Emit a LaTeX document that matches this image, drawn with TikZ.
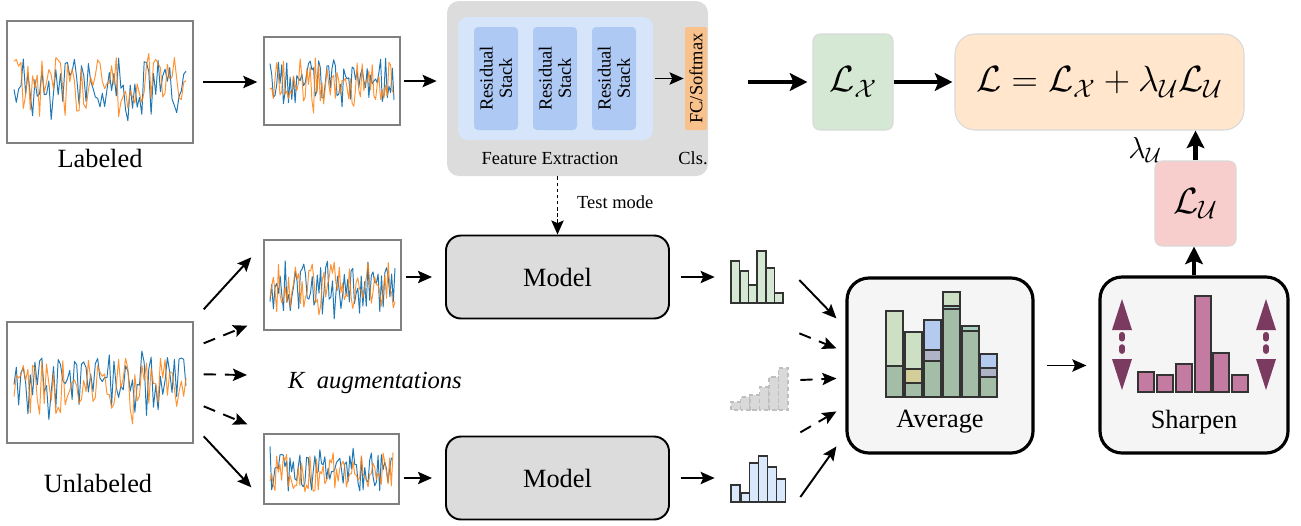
\documentclass[tikz,border=0pt]{standalone}
\usepackage{fontspec}
\setmainfont{Liberation Serif}
\usetikzlibrary{arrows.meta,calc}

\newlength\px \setlength\px{0.02cm}
\definecolor{tsblue}{HTML}{1F77B4}
\definecolor{tsorange}{HTML}{FF7F0E}
\definecolor{cnngray}{HTML}{DCDCDC}
\definecolor{featblue}{HTML}{D6E5F9}
\definecolor{stackblue}{HTML}{AEC9F3}
\definecolor{fcorange}{HTML}{F9C28D}
\definecolor{lxgreen}{HTML}{D5E8D4}
\definecolor{ltorange}{HTML}{FFE6CC}
\definecolor{lupink}{HTML}{F8CECC}
\definecolor{hgreen}{HTML}{D5E8D4}
\definecolor{hblue}{HTML}{DAE8FC}
\definecolor{lgreen}{HTML}{CDE0C3}
\definecolor{dgreen}{HTML}{A3BDA7}
\definecolor{ablue}{HTML}{B4CAEE}
\definecolor{agray}{HTML}{AEB4C6}
\definecolor{ayellow}{HTML}{D3CE98}
\definecolor{ateal}{HTML}{A9CFC1}
\definecolor{sharpc}{HTML}{7B3A60}
\definecolor{sbar}{HTML}{C47BA1}

\tikzset{
  plotbox/.style={draw=black!50, line width=0.8pt, fill=white, inner sep=0},
  tsline/.style={line width=0.55pt, line join=round},
  panel/.style={fill=cnngray, rounded corners=12\px, inner sep=0},
  stackbox/.style={fill=stackblue, rounded corners=4\px, rotate=90, minimum width=103\px,
    minimum height=44\px, align=center, inner sep=0, font=\fontsize{10.5}{11}\selectfont},
  modelbox/.style={draw, line width=1.1pt, fill=cnngray, rounded corners=15\px,
    minimum width=223\px, minimum height=83\px, font=\fontsize{15}{18}\selectfont},
  lossbox/.style={rounded corners=7\px, line width=0.6pt, inner sep=0,
    font=\fontsize{20}{24}\selectfont},
  bigbox/.style={draw, line width=1.8pt, fill=black!4, rounded corners=22\px, inner sep=0},
  arr/.style={line width=1.1pt, -{Stealth[length=8pt,width=7pt,inset=1.5pt]}},
  fatarr/.style={line width=2.4pt, -{Stealth[length=10pt,width=10pt,inset=2pt]}},
  dasharr/.style={arr, dash pattern=on 7pt off 5pt},
  hbar/.style={draw=black!80, line width=0.9pt},
  lbl/.style={font=\fontsize{15}{18}\selectfont},
  smalltxt/.style={font=\fontsize{10.5}{12}\selectfont},
}

% two noisy series: x0, x1, centre, amplitude, seed
\newcommand\tswave[5]{%
  \pgfmathsetseed{#5}
  \draw[tsline, tsblue] plot[samples=75, domain=#1:#2] (\x, {#3+#4*(0.6*rand+0.4*rand*rand*rand)});
  \draw[tsline, tsorange, opacity=.85] plot[samples=75, domain=#1:#2] (\x, {#3+#4*(0.6*rand+0.4*rand*rand*rand)});
}

\begin{document}
\begin{tikzpicture}[x=0.02cm, y=-0.02cm]
\useasboundingbox (0,0) rectangle (1301,525);

% labeled branch
\node[plotbox, minimum width=186\px, minimum height=122\px] (lab) at (100,82) {};
\tswave{14}{186}{86}{50}{11}
\node[lbl] (labtxt) at (100,158) {Labeled};
\node[plotbox, minimum width=136\px, minimum height=88\px] (labaug) at (332,81) {};
\tswave{270}{394}{83}{38}{23}

\node[panel, minimum width=261\px, minimum height=175\px] (cnn) at (577.5,88.5) {};
\node[fill=featblue, rounded corners=10\px, minimum width=195\px, minimum height=123\px] (feat) at (555.5,78.5) {};
\node[stackbox] (stk1) at (496,78.5) {Residual\\Stack};
\node[stackbox] (stk2) at (555,78.5) {Residual\\Stack};
\node[stackbox] (stk3) at (614,78.5) {Residual\\Stack};
\node[stackbox, fill=fcorange, minimum height=22\px, rounded corners=2\px] (fc) at (696,78.5) {FC/Softmax};
\node[smalltxt] (feattxt) at (550,158) {Feature Extraction};
\node[smalltxt] (clstxt) at (693,158) {Cls.};

\node[lossbox, fill=lxgreen, draw=black!15, minimum width=80\px, minimum height=96\px] (lossx) at (853,82) {$\mathcal{L}_{\mathcal{X}}$};
\node[lossbox, fill=ltorange, draw=black!15, rounded corners=20\px, minimum width=289\px, minimum height=96\px] (losst) at (1099.5,82)
  {$\mathcal{L} = \mathcal{L}_{\mathcal{X}} + \lambda_{\mathcal{U}}\mathcal{L}_{\mathcal{U}}$};
\node[lossbox, fill=lupink, draw=black!15, minimum width=81\px, minimum height=85\px] (lossu) at (1195.5,203.5) {$\mathcal{L}_{\mathcal{U}}$};
\node[font=\fontsize{18}{21}\selectfont] (lam) at (1145,150) {$\lambda_{\mathcal{U}}$};

\draw[arr, shorten <=9\px, shorten >=6\px] (lab.east) -- (labaug.west |- lab.east);
\draw[arr, shorten <=3\px, shorten >=10\px] (labaug.east) -- (cnn.west |- labaug.east);
\draw[arr, shorten <=2\px, shorten >=1\px] (feat.east) -- (fc.north);
\draw[fatarr, shorten <=40\px, shorten >=5\px] (lossx.west -| cnn.east) -- (lossx.west);
\draw[fatarr, shorten >=2\px] (lossx.east) -- (losst.west);
\draw[fatarr] (lossu.north) -- (lossu.north |- losst.south);

% unlabeled branch
\node[plotbox, minimum width=186\px, minimum height=121\px] (unlab) at (100,382.5) {};
\tswave{14}{186}{385}{52}{37}
\node[lbl] (unlabtxt) at (98,483) {Unlabeled};
\node[plotbox, minimum width=137\px, minimum height=90\px] (augtop) at (332.5,285) {};
\tswave{270}{395}{287}{40}{41}
\node[plotbox, minimum width=135\px, minimum height=70\px] (augbot) at (331.5,469) {};
\tswave{270}{393}{472}{32}{53}
\node[font=\fontsize{14}{17}\selectfont\itshape] (kaug) at (375,383) {K\ \ augmentations};

\draw[arr] ([shift={(10,-12)}]unlab.north east) -- ([shift={(-12,18)}]augtop.north west);
\draw[dasharr] ([shift={(10,22)}]unlab.north east) -- ([shift={(-16,-5)}]augtop.south west);
\draw[dasharr] ([shift={(10,53)}]unlab.north east) -- ([shift={(-35,-8)}]kaug.west);
\draw[dasharr] ([shift={(10,85)}]unlab.north east) -- ([shift={(-16,-9)}]augbot.north west);
\draw[arr] ([shift={(10,115)}]unlab.north east) -- ([shift={(-12,54)}]augbot.north west);

\node[modelbox] (mtop) at (557.5,277) {Model};
\node[modelbox] (mbot) at (557.5,478) {Model};
\draw[arr, dash pattern=on 2pt off 1.5pt, line width=1pt] (mtop.north |- cnn.south) -- (mtop.north);
\node[smalltxt, anchor=west] (testtxt) at (571,202) {Test mode};
\draw[arr, shorten <=4\px, shorten >=13\px] (augtop.east |- mtop.west) -- (mtop.west);
\draw[arr, shorten <=4\px, shorten >=13\px] (augbot.east |- mbot.west) -- (mbot.west);

% histograms
\node[inner sep=0, minimum width=58\px, minimum height=52\px] (htop) at (758,277) {};
\node[inner sep=0, minimum width=58\px, minimum height=42\px] (hmid) at (758,389) {};
\node[inner sep=0, minimum width=58\px, minimum height=47\px] (hbot) at (758,478) {};
\foreach \xa/\yt in {731/261,740/271,748.6/285,757.2/251,765.8/268,774.4/293}
  \draw[hbar, fill=hgreen] (\xa,303) rectangle (\xa+8.6,\yt);
\foreach \xa/\yt in {731/402,740.5/397,750/395,759.5/387,769/377,778.5/368}
  \draw[draw=black!25, fill=black!15, line width=0.9pt, dash pattern=on 2.5pt off 1.5pt] (\xa,410) rectangle (\xa+9.5,\yt);
\foreach \xa/\yt in {731/485,741/493,749.5/463,758.5/456,767.5/467,776.5/479}
  \draw[hbar, fill=hblue] (\xa,502) rectangle (\xa+9,\yt);
\draw[arr, shorten <=11\px, shorten >=14\px] (mtop.east) -- (htop.west |- mtop.east);
\draw[arr, shorten <=11\px, shorten >=14\px] (mbot.east) -- (hbot.west |- mbot.east);

% average
\node[bigbox, minimum width=186\px, minimum height=175\px] (avg) at (940,365.5) {};
\foreach \bx/\ya/\yb/\col in {886/311/366/lgreen, 886/366/397/dgreen,
    905/332/369/lgreen, 905/369/383/ayellow, 905/383/397/dgreen,
    924/320/350/ablue, 924/350/361/agray, 924/361/397/dgreen,
    943/292/306/lgreen, 943/306/309/ateal, 943/309/397/dgreen,
    962/326/331/ateal, 962/331/397/dgreen,
    980/354/368/ablue, 980/368/377/agray, 980/377/397/dgreen}
  \draw[hbar, fill=\col] (\bx,\ya) rectangle (\bx+17,\yb);
\node[lbl] (avgtxt) at (940,422) {Average};
\draw[arr] ([shift={(12,3)}]htop.east) -- ([shift={(-9,42)}]avg.north west);
\draw[dasharr] ([shift={(12,30)}]htop.south east) -- ([shift={(-9,72)}]avg.north west);
\draw[dasharr] ([shift={(13,-9)}]hmid.east) -- ([shift={(-9,102)}]avg.north west);
\draw[dasharr] ([shift={(13,22)}]hmid.south east) -- ([shift={(-9,135)}]avg.north west);
\draw[arr] ([shift={(13,19)}]hbot.east) -- ([shift={(-9,170)}]avg.north west);

% sharpen
\node[bigbox, minimum width=188\px, minimum height=176\px] (sharp) at (1194,365) {};
\foreach \xa/\yt in {1138/372,1157/375,1176/364,1195/296,1213/353,1232/375}
  \draw[hbar, fill=sbar] (\xa,392) rectangle (\xa+16,\yt);
\foreach \ax in {1122,1266}{
  \fill[sharpc] (\ax,299) -- (\ax-10,330) -- (\ax+10,330) -- cycle;
  \fill[sharpc] (\ax,390) -- (\ax-10,359) -- (\ax+10,359) -- cycle;
  \draw[sharpc, line width=3.5pt, line cap=round, dash pattern=on 2pt off 5pt] (\ax,335) -- (\ax,356);
}
\node[lbl] (sharptxt) at (1194,422) {Sharpen};
\draw[arr, shorten <=12\px, shorten >=12\px] (avg.east) -- (sharp.west |- avg.east);
\draw[fatarr] (sharp.north) -- (sharp.north |- lossu.south);
\end{tikzpicture}
\end{document}
